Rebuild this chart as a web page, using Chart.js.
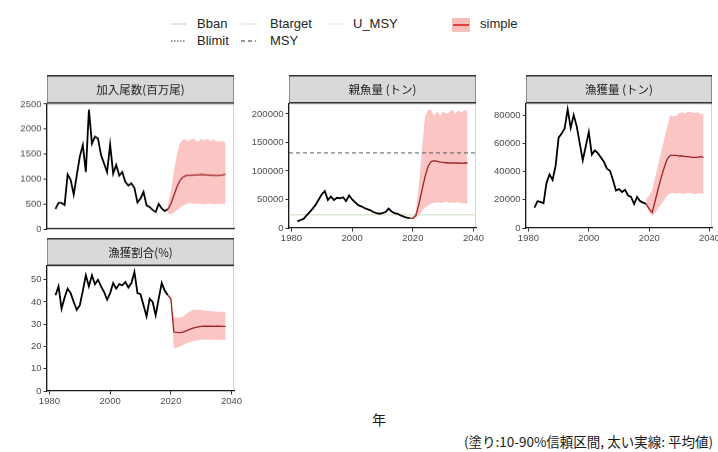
<!DOCTYPE html>
<html>
<head>
<meta charset="utf-8">
<script src="https://cdn.jsdelivr.net/npm/chart.js@4"></script>
<style>
  body { margin: 0; width: 718px; height: 452px; position: relative; overflow: hidden; background: #fff;
         font-family: "Liberation Sans", Arial, sans-serif; }
  canvas { position: absolute; }
  .lg { position: absolute; font-size: 13px; line-height: 14px; color: #262626; white-space: nowrap; }
  .key { position: absolute; }
  .jp { position: absolute; font-family: "Noto Sans CJK JP", sans-serif; color: #1a1a1a; white-space: nowrap; }
</style>
</head>
<body>

<!-- legend -->
<svg class="key" style="left:170px;top:17px" width="18" height="14"><line x1="1" y1="7" x2="16" y2="7" stroke="#c8c8c8" stroke-width="1"/></svg>
<div class="lg" style="left:197px;top:17px">Bban</div>
<svg class="key" style="left:240px;top:17px" width="18" height="14"><line x1="1" y1="7" x2="16" y2="7" stroke="#dcdcdc" stroke-width="1"/></svg>
<div class="lg" style="left:270px;top:17px">Btarget</div>
<svg class="key" style="left:328px;top:17px" width="18" height="14"><line x1="1" y1="7" x2="16" y2="7" stroke="#c8c8c8" stroke-width="1" stroke-dasharray="1.5,1.5"/></svg>
<div class="lg" style="left:353px;top:17px">U_MSY</div>
<svg class="key" style="left:452px;top:18px" width="19" height="14"><rect x="0" y="0" width="18" height="14" fill="#f7bdb9"/><line x1="1" y1="7" x2="17" y2="7" stroke="#e2403f" stroke-width="2"/></svg>
<div class="lg" style="left:480px;top:17px">simple</div>
<svg class="key" style="left:170px;top:34px" width="18" height="14"><line x1="1" y1="7" x2="16" y2="7" stroke="#333" stroke-width="1" stroke-dasharray="1.5,1.5"/></svg>
<div class="lg" style="left:197px;top:34px">Blimit</div>
<svg class="key" style="left:240px;top:34px" width="18" height="14"><line x1="1" y1="7" x2="16" y2="7" stroke="#333" stroke-width="1" stroke-dasharray="4,3"/></svg>
<div class="lg" style="left:270px;top:34px">MSY</div>

<canvas id="c1"></canvas>
<canvas id="c2"></canvas>
<canvas id="c3"></canvas>
<canvas id="c4"></canvas>

<div class="jp" style="left:372px;top:409px;font-size:14px">年</div>
<div class="jp" style="right:5px;top:431px;font-size:13.5px">(塗り:10-90%信頼区間, 太い実線: 平均値)</div>

<script>
// ---- data ----
const histYears = [1982, 1983, 1984, 1985, 1986, 1987, 1988, 1989, 1990, 1991,
                   1992, 1993, 1994, 1995, 1996, 1997, 1998, 1999, 2000, 2001,
                   2002, 2003, 2004, 2005, 2006, 2007, 2008, 2009, 2010, 2011,
                   2012, 2013, 2014, 2015, 2016, 2017, 2018, 2019];
const futYears = [2019, 2020, 2021, 2022, 2023, 2024, 2025, 2026, 2027, 2028,
                  2029, 2030, 2031, 2032, 2033, 2034, 2035, 2036, 2037, 2038];

const recruitHist = [400, 520, 520, 480, 1090, 980, 690, 1070, 1450, 1680,
                     1140, 2390, 1710, 1850, 1810, 1480, 1310, 1140, 1690, 1110,
                     1280, 1070, 1140, 940, 870, 910, 820, 530, 610, 740,
                     470, 440, 380, 340, 500, 410, 360, 400];
const recruitMean = [390, 500, 670, 840, 970, 1040, 1070, 1075, 1075, 1080,
                     1080, 1090, 1080, 1080, 1075, 1075, 1070, 1075, 1080, 1095];
const recruitLow  = [310, 290, 330, 380, 430, 470, 500, 520, 510, 500,
                     510, 500, 495, 505, 510, 495, 505, 495, 500, 495];
const recruitHigh = [480, 750, 1150, 1500, 1720, 1800, 1780, 1760, 1810, 1790,
                     1740, 1810, 1780, 1800, 1770, 1790, 1760, 1750, 1770, 1730];

const ssbHist = [11700, 14000, 16000, 22000, 28000, 34000, 41000, 50000, 59000, 65000,
                 49000, 55000, 49000, 53000, 52000, 54000, 47000, 57000, 50000, 45000,
                 40000, 38000, 35000, 33000, 31000, 28000, 26000, 25000, 26000, 28000,
                 34000, 29000, 26000, 25000, 22000, 20000, 18000, 17500];
const ssbMean = [17500, 17000, 22000, 42000, 66000, 90000, 108000, 116500, 118000, 117000,
                 115500, 115000, 114500, 114000, 114000, 114000, 114000, 113500, 114000, 114000];
const ssbLow  = [17500, 15500, 17000, 22000, 30000, 36000, 40000, 43000, 44000, 45000,
                 44000, 45000, 46000, 44000, 45000, 44000, 45000, 43000, 44000, 42000];
const ssbHigh = [17500, 19000, 30000, 75000, 140000, 195000, 207000, 208000, 196000, 205000,
                 197000, 205000, 200000, 203000, 208000, 200000, 206000, 203000, 207000, 204000];
const ssbMSY = 131700;
const ssbBban = 23000;

const catchHist = [14500, 19000, 18500, 17500, 32000, 38000, 34000, 44000, 64000, 67000,
                   70500, 84000, 71000, 80000, 72000, 60000, 48000, 58000, 68000, 52000,
                   55000, 53000, 50000, 47000, 42000, 40500, 34000, 26500, 27500, 25500,
                   27000, 23000, 22000, 17000, 22000, 19000, 18000, 17000];
const catchMean = [17000, 13500, 11000, 19500, 28000, 36000, 43000, 49000, 51500, 51500,
                   51500, 51000, 51000, 50500, 50500, 50000, 50000, 50000, 50500, 50000];
const catchLow  = [15500, 11000, 8500, 11000, 14000, 17000, 20000, 23000, 24500, 25000,
                   24500, 25000, 24000, 24500, 25000, 24500, 24000, 24500, 24500, 24000];
const catchHigh = [21000, 23000, 27000, 36000, 45000, 54000, 63000, 72000, 80000, 79000,
                   79500, 81500, 82000, 81000, 82500, 82000, 81500, 82000, 81000, 80500];

const rateHist = [43, 47, 37, 42, 46, 44, 40, 36.5, 38.5, 45,
                  52, 47, 52, 48, 50, 47, 44.5, 41, 44, 48.5,
                  46, 48, 47.5, 49, 46.5, 48.5, 53.5, 44, 43.5, 38.5,
                  33.5, 41.5, 40, 34, 41.5, 48.5, 45, 43];
const rateMean = [43, 41.5, 26.5, 26.3, 26.2, 26.5, 27, 27.6, 28.1, 28.5,
                  28.8, 29, 29.1, 29.1, 29.1, 29, 29.1, 29.1, 29, 29];
const rateLow  = [43, 40, 19, 19.5, 20, 20.7, 21.3, 21.8, 22.3, 22.6,
                  22.8, 23, 23, 23.1, 23.1, 23, 23, 23, 22.9, 23];
const rateHigh = [43, 43, 33, 33, 33, 33.5, 34.5, 35.5, 36.3, 36.5,
                  36.5, 36.4, 36.2, 36, 35.8, 35.8, 35.6, 35.6, 35.5, 35.5];

const xTicks = [1980, 2000, 2020, 2040];
const xMin = 1979.2, xMax = 2040.8;

function pts(xs, ys) {
    return xs.map((x, i) => ({x: x, y: ys[i]}));
}

const stripPlugin = {
    id: 'strip',
    beforeDraw(chart, args, opts) {
        const a = chart.chartArea, ctx = chart.ctx;
        ctx.save();
        ctx.strokeStyle = '#d4d4d4';
        ctx.lineWidth = 1;
        ctx.strokeRect(a.left + 0.5, a.top + 0.5, a.right - a.left - 1, a.bottom - a.top - 1);
        ctx.restore();
    },
    afterDraw(chart, args, opts) {
        const a = chart.chartArea, ctx = chart.ctx;
        ctx.save();
        ctx.fillStyle = '#d9d9d9';
        ctx.fillRect(a.left, 0, a.right - a.left, a.top);
        ctx.strokeStyle = '#8c8c8c';
        ctx.lineWidth = 1;
        ctx.beginPath();
        ctx.moveTo(a.left + 0.5, 0); ctx.lineTo(a.left + 0.5, a.top);
        ctx.moveTo(a.right - 0.5, 0); ctx.lineTo(a.right - 0.5, a.top);
        ctx.stroke();
        ctx.strokeStyle = '#333';
        ctx.lineWidth = 1.5;
        ctx.beginPath();
        ctx.moveTo(a.left, 0.75); ctx.lineTo(a.right, 0.75);
        ctx.moveTo(a.left, a.top - 0.75); ctx.lineTo(a.right, a.top - 0.75);
        ctx.stroke();
        ctx.fillStyle = '#1a1a1a';
        ctx.font = '11.5px "Noto Sans CJK JP"';
        ctx.textAlign = 'center';
        ctx.textBaseline = 'middle';
        ctx.fillText(opts.title, (a.left + a.right) / 2, a.top / 2 + 0.5);
        ctx.restore();
    }
};

function makePanel(id, box, title, yTicks, series, showX) {
    const yW = 52, xH = 22, rp = 12;
    const cv = document.getElementById(id);
    const w = yW + (box.right - box.left) + rp;
    const h = (box.bottom - box.strip) + xH;
    cv.width = w;
    cv.height = h;
    cv.style.left = (box.left - yW) + 'px';
    cv.style.top = box.strip + 'px';
    cv.style.width = w + 'px';
    cv.style.height = h + 'px';

    const all = [].concat(series.hist, series.mean, series.low, series.high, series.refs ? series.refs.map(r => r.y) : []);
    const yMax = Math.max(...all) * 1.05;

    const datasets = [
        {data: pts(futYears, series.mean), borderColor: '#9e2424', borderWidth: 1.3, order: 1},
        {data: pts(histYears, series.hist), borderColor: '#000', borderWidth: 1.8, order: 2},
        {data: pts(futYears, series.low), borderWidth: 0, borderColor: 'rgba(0,0,0,0)', fill: false, order: 5},
        {data: pts(futYears, series.high), borderWidth: 0, borderColor: 'rgba(0,0,0,0)',
         backgroundColor: 'rgba(247,140,136,0.5)', fill: '-1', order: 4}
    ];
    (series.refs || []).forEach(r => {
        datasets.push({data: [{x: xMin, y: r.y}, {x: xMax, y: r.y}], borderColor: r.color,
                       borderWidth: 1, borderDash: r.dash, order: 3});
    });

    return new Chart(cv.getContext('2d'), {
        type: 'line',
        data: {datasets: datasets},
        plugins: [stripPlugin],
        options: {
            responsive: false,
            animation: false,
            devicePixelRatio: 1,
            layout: {padding: {top: box.top - box.strip, right: rp, left: 0, bottom: 0}},
            elements: {point: {radius: 0}, line: {tension: 0}},
            plugins: {legend: {display: false}, tooltip: {enabled: false}, strip: {title: title}},
            scales: {
                x: {
                    type: 'linear', min: xMin, max: xMax,
                    afterBuildTicks: s => { s.ticks = xTicks.map(v => ({value: v})); },
                    afterFit: s => { s.height = xH; s.paddingLeft = 0; s.paddingRight = 0; },
                    grid: {display: showX, drawOnChartArea: false, drawTicks: true, tickLength: 3.5, color: '#333'},
                    border: {display: true, color: '#1a1a1a', width: 1.2},
                    ticks: {display: showX, color: '#4d4d4d', padding: 1, maxRotation: 0,
                            font: {family: 'Liberation Sans', size: 9.5}, callback: v => String(v)}
                },
                y: {
                    type: 'linear', min: 0, max: yMax,
                    afterBuildTicks: s => { s.ticks = yTicks.map(v => ({value: v})); },
                    afterFit: s => { s.width = yW; s.paddingTop = 0; s.paddingBottom = 0; },
                    grid: {drawOnChartArea: false, drawTicks: true, tickLength: 3.5, color: '#333'},
                    border: {display: true, color: '#1a1a1a', width: 1.2},
                    ticks: {color: '#4d4d4d', padding: 2,
                            font: {family: 'Liberation Sans', size: 9.5}, callback: v => String(v)}
                }
            }
        }
    });
}

makePanel('c1', {left: 47, right: 234, strip: 75, top: 103.5, bottom: 228.5},
    '加入尾数(百万尾)', [0, 500, 1000, 1500, 2000, 2500],
    {hist: recruitHist, mean: recruitMean, low: recruitLow, high: recruitHigh}, false);

makePanel('c2', {left: 288.5, right: 475.5, strip: 75, top: 103.5, bottom: 228},
    '親魚量 (トン)', [0, 50000, 100000, 150000, 200000],
    {hist: ssbHist, mean: ssbMean, low: ssbLow, high: ssbHigh,
     refs: [{y: ssbMSY, color: '#4f5f5f', dash: [4, 3]}, {y: ssbBban, color: '#c9dcc3', dash: []}]}, true);

makePanel('c3', {left: 525.5, right: 712, strip: 75, top: 103.5, bottom: 228},
    '漁獲量 (トン)', [0, 20000, 40000, 60000, 80000],
    {hist: catchHist, mean: catchMean, low: catchLow, high: catchHigh}, true);

makePanel('c4', {left: 47, right: 234, strip: 238, top: 266, bottom: 391},
    '漁獲割合(%)', [0, 10, 20, 30, 40, 50],
    {hist: rateHist, mean: rateMean, low: rateLow, high: rateHigh}, true);
</script>
</body>
</html>
